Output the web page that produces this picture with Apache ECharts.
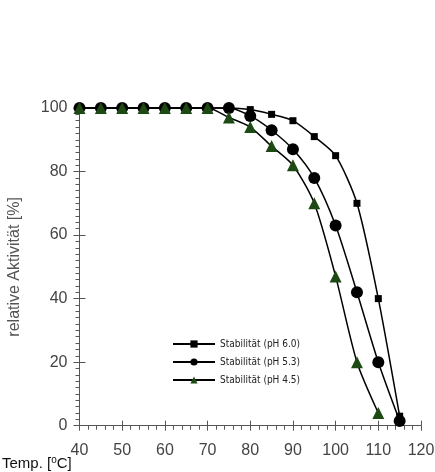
<!DOCTYPE html>
<html><head><meta charset="utf-8">
<script src="https://cdn.jsdelivr.net/npm/echarts@6/dist/echarts.min.js"></script>
<style>html,body{margin:0;padding:0;background:#fff}#c{width:435px;height:472px}</style>
</head><body><div id="c"></div>
<script>
const temps = [40,45,50,55,60,65,70,75,80,85,90,95,100,105,110,115];
const ph60 = [100,100,100,100,100,100,100,100,99.5,98,96,91,85,70,40,3];
const ph53 = [100,100,100,100,100,100,100,100,97.5,93,87,78,63,42,20,1.5];
const ph45 = [100,100,100,100,100,100,100,97,94,88,82,70,47,20,4];
const xTicks = [40,50,60,70,80,90,100,110,120];
const yTicks = [0,20,40,60,80,100];
const names = ['Stabilität (pH 6.0)','Stabilität (pH 5.3)','Stabilität (pH 4.5)'];
const green = '#1d4a14';
const pair = (v) => v.map((y,i)=>[temps[i],y]);
const chart = echarts.init(document.getElementById('c'));
const FF = 'Liberation Sans, Arial, sans-serif';
const axisCommon = {
  type:'value',
  axisLine:{show:true,lineStyle:{color:'#555',width:1}},
  splitLine:{show:false},
};
chart.setOption({
  animation:false,
  grid:{left:79.5,right:14,top:108,bottom:46.3,containLabel:false,outerBoundsMode:'none'},
  legend:{
    orient:'vertical', left:167, top:334, itemGap:8, itemWidth:42, itemHeight:9,
    textStyle:{fontFamily:'DejaVu Sans Condensed, Liberation Sans Narrow, sans-serif',fontSize:10,color:'#222'},
    data:names
  },
  xAxis:[
    Object.assign({}, axisCommon, {min:40,max:120,interval:10,
      axisTick:{show:true,length:5,inside:false,lineStyle:{color:'#555'}},
      minorTick:{show:true,splitNumber:5,length:4,lineStyle:{color:'#555'}},
      axisLabel:{fontSize:16,color:'#444',margin:17,fontFamily:FF,
        formatter:(v)=>xTicks.includes(v)?String(v):''}}),
    Object.assign({}, axisCommon, {min:40,max:120,interval:10,position:'bottom',
      axisLine:{show:false},
      axisTick:{show:true,length:5,inside:true,lineStyle:{color:'#555'}},
      axisLabel:{show:false}})
  ],
  yAxis:[
    Object.assign({}, axisCommon, {min:0,max:100,interval:20,
      name:'relative Aktivität [%]', nameLocation:'middle', nameGap:57, nameRotate:90,
      nameTextStyle:{fontSize:16,color:'#555',fontFamily:FF},
      axisTick:{show:true,length:6,inside:false,lineStyle:{color:'#555'}},
      minorTick:{show:true,splitNumber:10,length:4,lineStyle:{color:'#555'}},
      axisLabel:{fontSize:16,color:'#444',margin:12,fontFamily:FF,
        formatter:(v)=>yTicks.includes(v)?String(v):''}}),
    Object.assign({}, axisCommon, {min:0,max:100,interval:20,position:'left',
      axisLine:{show:false},
      axisTick:{show:true,length:6,inside:true,lineStyle:{color:'#555'}},
      axisLabel:{show:false}})
  ],
  graphic:[{
    type:'text', left:2, top:455,
    style:{text:'Temp. [{s|o}C]', fontSize:15, fill:'#111', fontFamily:FF,
      rich:{s:{fontSize:10,verticalAlign:'top',padding:[0,0,8,0],fill:'#111',fontFamily:FF}}}
  }],
  series:[
    {name:names[0],type:'line',data:pair(ph60),symbol:'rect',symbolSize:7,clip:false,
     smooth:0.25,
     lineStyle:{color:'#000',width:1.5},itemStyle:{color:'#000'}},
    {name:names[1],type:'line',data:pair(ph53),symbol:'circle',symbolSize:12,clip:false,
     smooth:0.25,
     lineStyle:{color:'#000',width:1.5},itemStyle:{color:'#000'}},
    {name:names[2],type:'line',data:pair(ph45),symbol:'triangle',symbolSize:12,clip:false,
     smooth:0.25,
     lineStyle:{color:'#000',width:1.5},itemStyle:{color:green}}
  ]
});
</script></body></html>
